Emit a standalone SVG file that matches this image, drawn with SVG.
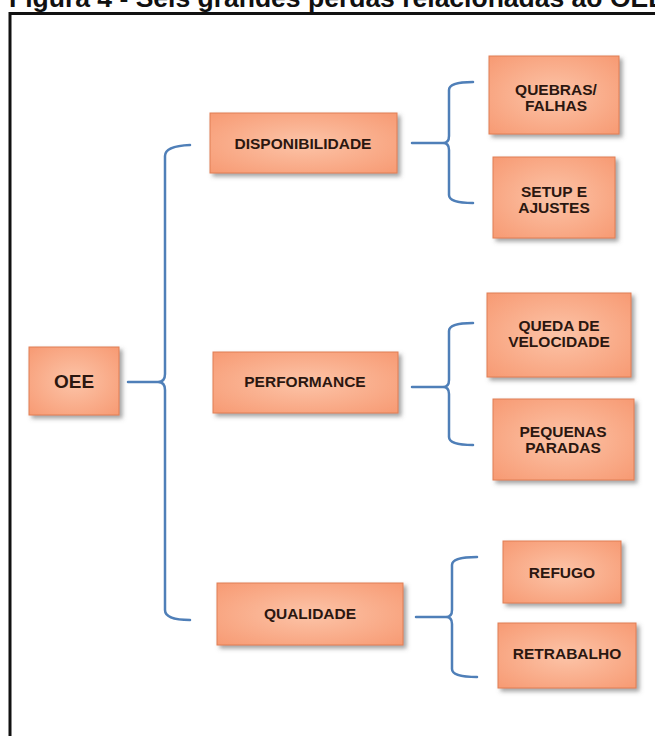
<svg xmlns="http://www.w3.org/2000/svg" width="655" height="736" viewBox="0 0 655 736">
<style>
.box{fill:url(#g);stroke:#E07E55;stroke-width:1;filter:url(#sh)}
.t{font-family:"Liberation Sans",Arial,sans-serif;font-weight:bold;font-size:15.5px;fill:#2B1710;text-anchor:middle}
.br{fill:none;stroke:#4F7FB8;stroke-width:2.5;stroke-linecap:round;stroke-linejoin:round}
</style>
<defs>
<radialGradient id="g" cx="0.5" cy="0.5" r="0.7">
<stop offset="0" stop-color="#FCC4A8"/>
<stop offset="1" stop-color="#F79A73"/>
</radialGradient>
<filter id="sh" x="-10%" y="-10%" width="130%" height="140%">
<feDropShadow dx="3" dy="3" stdDeviation="2" flood-color="#555" flood-opacity="0.55"/>
</filter>
</defs>
<rect width="655" height="736" fill="#fff"/>
<text x="9" y="7" style="font-family:'Liberation Sans',Arial,sans-serif;font-weight:bold;font-size:26.5px;fill:#111">Figura 4 - Seis grandes perdas relacionadas ao OEE</text>
<path d="M10,740 V13.5 H660" fill="none" stroke="#111" stroke-width="3"/>
<g id="connectors">
<path class="br" d="M128,382 H158 Q165,382 165,374 V156 Q165,146 190,145 M158,382 Q165,382 165,390 V610 Q165,620 190,620"/>
<path class="br" d="M412,143 H443 Q449,143 449,136 V90 Q449,82 473,82 M443,143 Q449,143 449,150 V195 Q449,203 473,203"/>
<path class="br" d="M412,387 H443 Q449,387 449,380 V331 Q449,323 473,323 M443,387 Q449,387 449,394 V437 Q449,445 473,445"/>
<path class="br" d="M416,617 H446 Q452,617 452,610 V565 Q452,557 477,557 M446,617 Q452,617 452,624 V669 Q452,677 477,677"/>
</g>
<g id="oee"><rect class="box" x="29" y="347" width="90" height="68"/><text class="t" x="74" y="388" style="font-size:19px">OEE</text></g>
<g id="disponibilidade"><rect class="box" x="210" y="113" width="187" height="60"/><text class="t" x="303" y="149">DISPONIBILIDADE</text></g>
<g id="performance"><rect class="box" x="213" y="352" width="185" height="61"/><text class="t" x="305" y="387">PERFORMANCE</text></g>
<g id="qualidade"><rect class="box" x="217" y="583" width="186" height="62"/><text class="t" x="310" y="619">QUALIDADE</text></g>
<g id="quebras"><rect class="box" x="489" y="56" width="130" height="78"/><text class="t" x="556" y="95">QUEBRAS/</text><text class="t" x="556" y="111">FALHAS</text></g>
<g id="setup"><rect class="box" x="493" y="157" width="122" height="81"/><text class="t" x="554" y="197">SETUP E</text><text class="t" x="554" y="213">AJUSTES</text></g>
<g id="queda"><rect class="box" x="487" y="293" width="144" height="84"/><text class="t" x="559" y="331">QUEDA DE</text><text class="t" x="559" y="347">VELOCIDADE</text></g>
<g id="pequenas"><rect class="box" x="493" y="399" width="141" height="81"/><text class="t" x="563" y="437">PEQUENAS</text><text class="t" x="563" y="453">PARADAS</text></g>
<g id="refugo"><rect class="box" x="503" y="541" width="118" height="62"/><text class="t" x="562" y="578">REFUGO</text></g>
<g id="retrabalho"><rect class="box" x="498" y="623" width="138" height="65"/><text class="t" x="567" y="659">RETRABALHO</text></g>
</svg>
